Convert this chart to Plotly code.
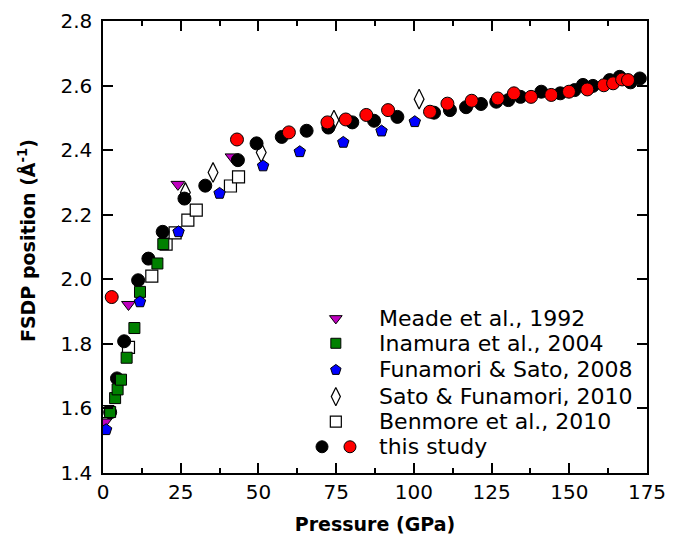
import plotly.graph_objects as go

# ---- data (pressure in GPa, FSDP position in 1/Angstrom) ----
meade_p = [0.6, 8.2, 24.1, 41.5]
meade_q = [1.558, 1.922, 2.294, 2.379]

inamura_p = [2.3, 3.9, 4.7, 5.8, 7.6, 10.1, 11.9, 17.5, 19.4]
inamura_q = [1.589, 1.632, 1.659, 1.689, 1.757, 1.849, 1.961, 2.049, 2.109]

funamori_p = [1.0, 11.9, 24.3, 37.5, 51.5, 63.3, 77.3, 89.6, 100.3]
funamori_q = [1.534, 1.930, 2.147, 2.266, 2.351, 2.395, 2.424, 2.459, 2.488]

sato_p = [26.5, 35.4, 50.9, 74.3, 101.7]
sato_q = [2.269, 2.331, 2.393, 2.493, 2.558]

benmore_p = [1.5, 8.2, 15.7, 20.3, 23.2, 27.3, 30.0, 41.0, 43.6]
benmore_q = [1.59, 1.789, 2.010, 2.109, 2.144, 2.183, 2.214, 2.289, 2.317]

study_black_p = [2.3, 4.5, 6.8, 11.3, 14.6, 19.2, 26.2, 32.9, 43.4, 49.4, 57.5, 65.5,
                 72.5, 80.2, 87.2, 94.7, 106.5, 111.6, 116.8, 121.6, 126.5, 130.4,
                 134.3, 141.0, 147.1, 151.7, 154.4, 157.6, 163.0, 166.2, 169.7, 172.7]
study_black_q = [1.588, 1.693, 1.808, 1.997, 2.064, 2.147, 2.250, 2.290, 2.369, 2.421,
                 2.441, 2.460, 2.470, 2.486, 2.491, 2.503, 2.516, 2.524, 2.533, 2.543,
                 2.550, 2.555, 2.565, 2.581, 2.576, 2.586, 2.602, 2.599, 2.617, 2.627,
                 2.610, 2.622]

study_red_p = [2.8, 43.1, 59.8, 72.2, 78.1, 84.7, 91.7, 105.2, 110.8, 118.6, 127.0,
               132.2, 137.7, 144.2, 149.9, 155.8, 161.1, 164.1, 167.0, 168.9]
study_red_q = [1.945, 2.433, 2.455, 2.486, 2.495, 2.509, 2.524, 2.519, 2.544, 2.553,
               2.560, 2.576, 2.565, 2.571, 2.581, 2.588, 2.601, 2.607, 2.619, 2.617]

x_ticks = [0, 25, 50, 75, 100, 125, 150, 175]
y_ticks = [1.4, 1.6, 1.8, 2.0, 2.2, 2.4, 2.6, 2.8]

legend_labels = ["Meade et al., 1992", "Inamura et al., 2004", "Funamori & Sato, 2008",
                 "Sato & Funamori, 2010", "Benmore et al., 2010", "this study"]

x_title = "<b>Pressure (GPa)</b>"
y_title = "<b>FSDP position (Å<sup>-1</sup>)</b>"

FONT = "DejaVu Sans"

styles = {
    "meade": dict(symbol="triangle-down", size=12, color="#bf00bf", line=dict(color="black", width=1)),
    "inamura": dict(symbol="square", size=11, color="#008000", line=dict(color="black", width=1)),
    "funamori": dict(symbol="pentagon", size=12, color="#0000ff", line=dict(color="black", width=1)),
    "sato": dict(symbol="diamond-tall", size=14, color="white", line=dict(color="black", width=1.2)),
    "benmore": dict(symbol="square", size=12, color="white", line=dict(color="black", width=1.2)),
    "black": dict(symbol="circle", size=13, color="black", line=dict(color="black", width=1)),
    "red": dict(symbol="circle", size=13, color="#ff0000", line=dict(color="black", width=1)),
}

fig = go.Figure()

def add(p, q, key, name):
    fig.add_trace(go.Scatter(x=p, y=q, mode="markers", name=name, marker=styles[key],
                             showlegend=False, cliponaxis=True))

add(benmore_p, benmore_q, "benmore", legend_labels[4])
add(sato_p, sato_q, "sato", legend_labels[3])
add(meade_p, meade_q, "meade", legend_labels[0])
add(study_black_p, study_black_q, "black", legend_labels[5])
add(inamura_p, inamura_q, "inamura", legend_labels[1])
add(funamori_p, funamori_q, "funamori", legend_labels[2])
add(study_red_p, study_red_q, "red", legend_labels[5])

# ---- manual legend (overlay axes spanning the plot area, 0..1) ----
leg_rows = [0.342, 0.287, 0.228, 0.169, 0.1135, 0.058]
leg_keys = ["meade", "inamura", "funamori", "sato", "benmore"]
leg_mx = 0.428
for key, ry in zip(leg_keys, leg_rows[:5]):
    st = dict(styles[key])
    st["size"] = st["size"] - 1
    fig.add_trace(go.Scatter(x=[leg_mx], y=[ry], mode="markers", marker=st,
                             xaxis="x2", yaxis="y2", showlegend=False, hoverinfo="skip"))
fig.add_trace(go.Scatter(x=[0.4026], y=[leg_rows[5]], mode="markers", marker=dict(styles["black"], size=12),
                         xaxis="x2", yaxis="y2", showlegend=False, hoverinfo="skip"))
fig.add_trace(go.Scatter(x=[0.454], y=[leg_rows[5]], mode="markers", marker=dict(styles["red"], size=12),
                         xaxis="x2", yaxis="y2", showlegend=False, hoverinfo="skip"))

for label, ry in zip(legend_labels, leg_rows):
    fig.add_annotation(x=0.5037, y=ry, xref="paper", yref="paper", text=label,
                       showarrow=False, xanchor="left", yanchor="middle",
                       font=dict(family=FONT, size=22, color="black"))

# y-axis title placed as a rotated annotation for exact positioning
fig.add_annotation(x=-0.14, y=0.515, xref="paper", yref="paper", text=y_title,
                   textangle=-90, showarrow=False, xanchor="center", yanchor="middle",
                   font=dict(family=FONT, size=19, color="black"))

axis_common = dict(
    showgrid=False, zeroline=False, showline=True, linecolor="black", linewidth=1.5,
    mirror="ticks", ticks="inside", tickcolor="black", tickwidth=1.5, ticklen=10,
    tickfont=dict(family=FONT, size=20, color="black"), automargin=False,
)

# the page body adds an 8px offset; the figure is sized so the plot box lands
# at the reference position inside the 682x540 window
fig.update_layout(
    width=674, height=532,
    margin=dict(l=95, r=35, t=13, b=67),
    paper_bgcolor="white", plot_bgcolor="white",
    showlegend=False,
    xaxis=dict(axis_common, range=[0, 175], tickvals=x_ticks,
               ticktext=[str(v) for v in x_ticks],
               minor=dict(ticks="inside", dtick=12.5, tick0=0, ticklen=5, tickwidth=1.5, tickcolor="black"),
               title=dict(text=x_title, font=dict(family=FONT, size=19, color="black"))),
    yaxis=dict(axis_common, range=[1.4, 2.8], tickvals=y_ticks, ticklabelstandoff=5,
               ticktext=[f"{v:.1f}" for v in y_ticks]),
    xaxis2=dict(overlaying="x", range=[0, 1], visible=False, automargin=False),
    yaxis2=dict(overlaying="y", range=[0, 1], visible=False, automargin=False),
)

fig.write_html("out.html")
